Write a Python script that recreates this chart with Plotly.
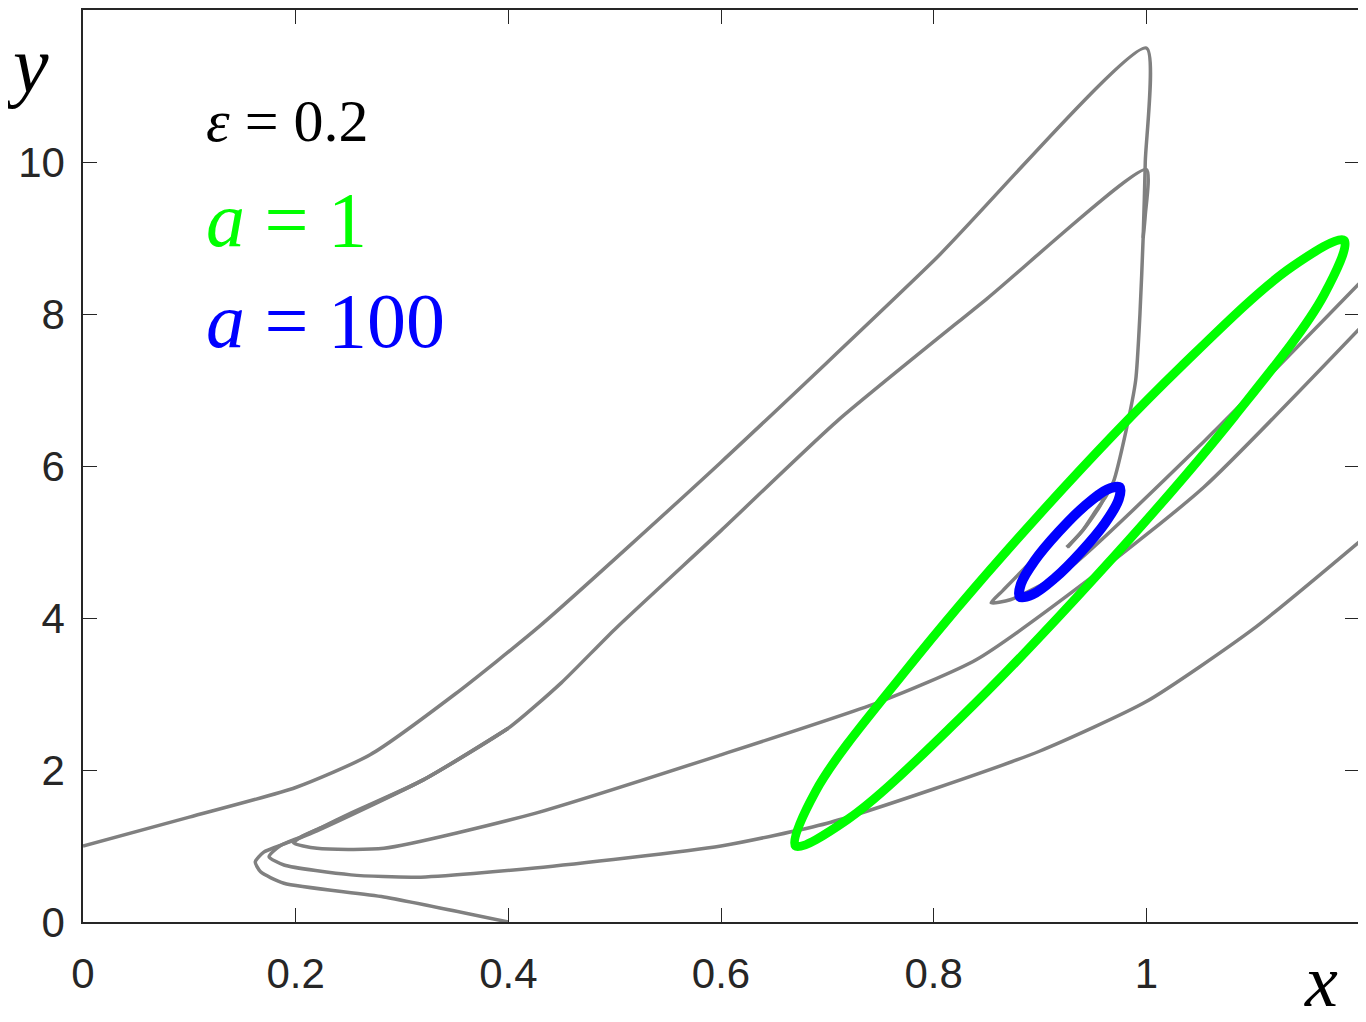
import plotly.graph_objects as go

# gray trajectories (x, y)
traj_a_x = [0, 0.1, 0.2, 0.27, 0.35, 0.43, 0.6, 0.8, 1.0, 0.999, 0.997, 0.994, 0.99, 0.981, 0.969, 0.962, 0.952, 0.94, 0.928, 0.925]
traj_a_y = [1, 1.38, 1.77, 2.2, 3.0, 3.9, 6.05, 8.7, 11.5, 10.0, 9.0, 8.0, 7.13, 6.47, 5.79, 5.6, 5.4, 5.15, 4.97, 4.93]
traj_b_x = [0.4, 0.283, 0.189, 0.167, 0.162, 0.17, 0.19, 0.22, 0.32, 0.4, 0.45, 0.5, 0.6, 0.71, 0.85, 1.0, 0.999, 0.997]
traj_b_y = [0, 0.33, 0.51, 0.66, 0.79, 0.92, 1.03, 1.2, 1.87, 2.55, 3.15, 3.85, 5.15, 6.6, 8.2, 9.9, 9.3, 9.0]
traj_c_x = [1.2, 1.1, 1.0, 0.9, 0.8, 0.7, 0.6, 0.425, 0.314, 0.252, 0.189, 0.175, 0.185, 0.205, 0.23, 0.32, 0.4]
traj_c_y = [5.0, 3.85, 2.9, 2.25, 1.75, 1.3, 1.0, 0.71, 0.59, 0.62, 0.75, 0.86, 1.0, 1.12, 1.28, 1.87, 2.55]
traj_d_x = [1.2, 1.054, 0.95, 0.84, 0.75, 0.6, 0.425, 0.283, 0.22, 0.198, 0.205, 0.225, 0.25, 0.32, 0.4]
traj_d_y = [7.8, 5.72, 4.55, 3.45, 2.9, 2.2, 1.43, 0.97, 0.97, 1.04, 1.12, 1.25, 1.42, 1.87, 2.55]
traj_e_x = [1.2, 1.054, 0.925, 0.872, 0.854, 0.865, 0.912, 0.953, 0.96, 0.943, 0.926]
traj_e_y = [8.4, 6.32, 4.63, 4.24, 4.2, 4.36, 5.03, 5.55, 5.57, 5.2, 4.93]

# limit cycles
green_x = [1.186, 1.167, 1.083, 0.957, 0.824, 0.719, 0.670, 0.689, 0.774, 0.899, 1.032, 1.137, 1.186]
green_y = [8.97, 8.25, 6.657, 4.614, 2.671, 1.349, 1.0, 1.72, 3.313, 5.356, 7.299, 8.622, 8.97]
blue_x = [0.975, 0.974, 0.961, 0.9385, 0.914, 0.893, 0.881, 0.882, 0.895, 0.9175, 0.942, 0.963, 0.975]
blue_y = [5.72, 5.558, 5.246, 4.868, 4.526, 4.31, 4.28, 4.443, 4.754, 5.132, 5.474, 5.69, 5.72]

x_ticks = [0, 0.2, 0.4, 0.6, 0.8, 1]
y_ticks = [0, 2, 4, 6, 8, 10]

fig = go.Figure()
for tx, ty in [(traj_a_x, traj_a_y), (traj_b_x, traj_b_y), (traj_c_x, traj_c_y),
               (traj_d_x, traj_d_y), (traj_e_x, traj_e_y)]:
    fig.add_trace(go.Scatter(x=tx, y=ty, mode="lines",
                             line=dict(color="#808080", width=3.5, shape="spline", smoothing=0.6)))
fig.add_trace(go.Scatter(x=green_x, y=green_y, mode="lines",
                         line=dict(color="#00ff00", width=9, shape="spline", smoothing=1.0)))
fig.add_trace(go.Scatter(x=blue_x, y=blue_y, mode="lines",
                         line=dict(color="#0000ff", width=10, shape="spline", smoothing=1.0)))

serif = "Liberation Serif"
anns = [
    dict(x=0.095, y=0.878, text="<i>ε</i> = 0.2", color="black", size=60),
    dict(x=0.095, y=0.77, text="<i>a</i> = 1", color="#00ff00", size=78),
    dict(x=0.095, y=0.66, text="<i>a</i> = 100", color="#0000ff", size=78),
]
for a in anns:
    fig.add_annotation(x=a["x"], y=a["y"], xref="paper", yref="paper", text=a["text"],
                       showarrow=False, xanchor="left", yanchor="middle",
                       font=dict(family=serif, size=a["size"], color=a["color"]))
fig.add_annotation(x=0.985, y=-0.065, xref="paper", yref="paper", text="<i>x</i>", showarrow=False,
                   xanchor="right", yanchor="middle", font=dict(family=serif, size=74, color="black"))
fig.add_annotation(x=-0.062, y=0.94, xref="paper", yref="paper", text="<i>y</i>", showarrow=False,
                   xanchor="left", yanchor="middle", font=dict(family=serif, size=80, color="black"))

axis_common = dict(showgrid=False, zeroline=False, showline=True, mirror="ticks", linecolor="#262626",
                   linewidth=1.5, ticks="inside", ticklen=14, tickcolor="#262626", automargin=False,
                   tickfont=dict(family="Liberation Sans", size=42, color="#262626"))
fig.update_xaxes(range=[0, 1.2], tickvals=x_ticks, ticktext=["0", "0.2", "0.4", "0.6", "0.8", "1"],
                 ticklabelstandoff=14, **axis_common)
fig.update_yaxes(range=[0, 12], tickvals=y_ticks, ticklabelstandoff=8, **axis_common)
fig.update_layout(width=1366, height=1022, showlegend=False, plot_bgcolor="white", paper_bgcolor="white",
                  margin=dict(l=75, r=15, t=2, b=108))
fig.write_html("out.html")
